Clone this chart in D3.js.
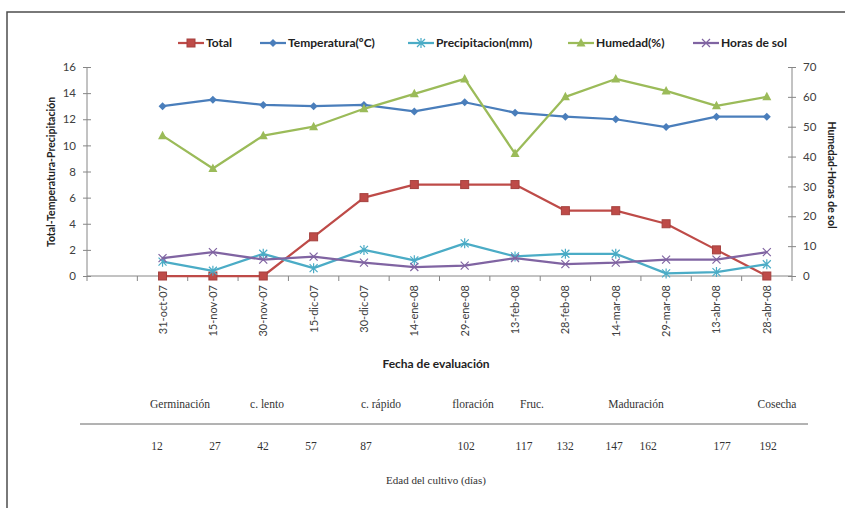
<!DOCTYPE html>
<html>
<head>
<meta charset="utf-8">
<script src="https://cdn.jsdelivr.net/npm/d3@7"></script>
<style>
  body { margin: 0; background: #fff; }
  svg { display: block; }
</style>
</head>
<body>
<svg id="chart" width="845" height="508"></svg>
<script>
// Fechas de evaluación
const fechas = ["31-oct-07", "15-nov-07", "30-nov-07", "15-dic-07", "30-dic-07", "14-ene-08",
  "29-ene-08", "13-feb-08", "28-feb-08", "14-mar-08", "29-mar-08", "13-abr-08", "28-abr-08"];

// Series del eje principal
const total         = [0, 0, 0, 3, 6, 7, 7, 7, 5, 5, 4, 2, 0];
const temperatura   = [13.0, 13.5, 13.1, 13.0, 13.1, 12.6, 13.3, 12.5, 12.2, 12.0, 11.4, 12.2, 12.2];
const precipitacion = [1.1, 0.4, 1.7, 0.6, 2.0, 1.2, 2.5, 1.5, 1.7, 1.7, 0.2, 0.3, 0.9];

// Series del eje secundario
const humedad  = [47, 36, 47, 50, 56, 61, 66, 41, 60, 66, 62, 57, 60];
const horasSol = [6, 8, 5.5, 6.5, 4.5, 3, 3.5, 6, 4, 4.5, 5.5, 5.5, 8];

const ticksIzq = [0, 2, 4, 6, 8, 10, 12, 14, 16];
const ticksDer = [0, 10, 20, 30, 40, 50, 60, 70];

// Tabla de fases y edad del cultivo
const fases    = ["Germinación", "c. lento", "c. rápido", "floración", "Fruc.", "Maduración", "Cosecha"];
const edadDias = [12, 27, 42, 57, 87, 102, 117, 132, 147, 162, 177, 192];

// Posiciones horizontales de la tabla inferior
const posFases = [180, 267, 381, 473, 532, 636, 777];
const posEdad  = [157, 215, 263, 311, 366, 466, 524, 565, 614, 648, 722, 768];

const svg = d3.select("#chart");
const plot = { left: 87, right: 792, top: 67, bottom: 276 };

// Categoría vacía al inicio del eje
const categorias = [" "].concat(fechas);
const x = d3.scaleBand().domain(categorias).range([plot.left, plot.right]).paddingInner(0).paddingOuter(0);
const cx = d => x(d) + x.bandwidth() / 2;
const yIzq = d3.scaleLinear().domain([0, 16]).range([plot.bottom, plot.top]);
const yDer = d3.scaleLinear().domain([0, 70]).range([plot.bottom, plot.top]);

const axisColor = "#868686";
const textColor = "#404040";
const sans = "Lato, 'Open Sans', sans-serif";
const serif = "'Liberation Serif', 'DejaVu Serif', serif";

// Marco
svg.append("path").attr("d", "M7,508 V12 H845").attr("fill", "none")
  .attr("stroke", "#4d4d4d").attr("stroke-width", 1.5);

// Eje izquierdo
const gIzq = svg.append("g").attr("transform", `translate(${plot.left},0)`)
  .call(d3.axisLeft(yIzq).tickValues(ticksIzq).tickSizeInner(4).tickSizeOuter(0).tickPadding(7));
gIzq.selectAll(".tick line").attr("x2", 4).attr("x1", -4);
gIzq.select(".domain").attr("d", `M0,${plot.top}V${plot.bottom}`);

// Eje derecho
const gDer = svg.append("g").attr("transform", `translate(${plot.right},0)`)
  .call(d3.axisRight(yDer).tickValues(ticksDer).tickSizeInner(4).tickSizeOuter(0).tickPadding(7));
gDer.selectAll(".tick line").attr("x1", -4).attr("x2", 4);
gDer.select(".domain").attr("d", `M0,${plot.top}V${plot.bottom}`);

[gIzq, gDer].forEach(g => {
  g.selectAll(".domain, .tick line").attr("stroke", axisColor);
  g.selectAll("text").attr("font-family", sans).attr("font-size", 11.5).attr("fill", textColor);
});

// Eje de categorías
const gX = svg.append("g").attr("transform", `translate(0,${plot.bottom})`);
gX.append("line").attr("x1", plot.left).attr("x2", plot.right).attr("stroke", axisColor);
gX.selectAll("line.tick").data(categorias.concat(["__fin"])).join("line").attr("class", "tick")
  .attr("x1", (d, i) => i < categorias.length ? x(d) : plot.right)
  .attr("x2", (d, i) => i < categorias.length ? x(d) : plot.right)
  .attr("y1", 0).attr("y2", 5).attr("stroke", axisColor);
gX.selectAll("text").data(fechas).join("text")
  .attr("transform", d => `translate(${cx(d) + 4},9) rotate(-90)`)
  .attr("text-anchor", "end")
  .attr("font-family", sans).attr("font-size", 11).attr("fill", textColor)
  .text(d => d);

// Títulos de ejes
svg.append("text").attr("transform", "translate(55,172) rotate(-90)")
  .attr("text-anchor", "middle").attr("font-family", sans).attr("font-weight", "bold")
  .attr("font-size", 10.5).attr("fill", "#222").text("Total-Temperatura-Precipitación");
svg.append("text").attr("transform", "translate(828,175) rotate(90)")
  .attr("text-anchor", "middle").attr("font-family", sans).attr("font-weight", "bold")
  .attr("font-size", 10.5).attr("fill", "#222").text("Humedad-Horas de sol");
svg.append("text").attr("x", 436).attr("y", 368)
  .attr("text-anchor", "middle").attr("font-family", sans).attr("font-weight", "bold")
  .attr("font-size", 12).attr("fill", "#222").text("Fecha de evaluación");

// Marcadores
function marker(g, tipo, color) {
  const s = 4;
  if (tipo === "square") {
    g.append("rect").attr("x", -s).attr("y", -s).attr("width", 2 * s).attr("height", 2 * s)
      .attr("fill", color).attr("stroke", d3.color(color).darker(0.4));
  } else if (tipo === "diamond") {
    g.append("path").attr("d", `M0,${-s}L${s},0L0,${s}L${-s},0Z`).attr("fill", color);
  } else if (tipo === "triangle") {
    g.append("path").attr("d", `M0,${-s - 1}L${s + 0.5},${s - 0.5}L${-s - 0.5},${s - 0.5}Z`).attr("fill", color);
  } else if (tipo === "x") {
    g.append("path").attr("d", `M${-s},${-s}L${s},${s}M${-s},${s}L${s},${-s}`)
      .attr("stroke", color).attr("stroke-width", 1.2);
  } else if (tipo === "star") {
    g.append("path").attr("d", `M${-s},${-s}L${s},${s}M${-s},${s}L${s},${-s}M0,${-s - 1}V${s + 1}`)
      .attr("stroke", color).attr("stroke-width", 1.2);
  }
}

const series = [
  { nombre: "Total", valores: total, escala: yIzq, color: "#BE4B48", tipo: "square" },
  { nombre: "Temperatura(ºC)", valores: temperatura, escala: yIzq, color: "#4A7EBB", tipo: "diamond" },
  { nombre: "Precipitacion(mm)", valores: precipitacion, escala: yIzq, color: "#4BACC6", tipo: "star" },
  { nombre: "Humedad(%)", valores: humedad, escala: yDer, color: "#9BBB59", tipo: "triangle" },
  { nombre: "Horas de sol", valores: horasSol, escala: yDer, color: "#8064A2", tipo: "x" }
];

series.forEach(s => {
  const linea = d3.line().x((v, i) => cx(fechas[i])).y(v => s.escala(v));
  const g = svg.append("g");
  g.append("path").attr("d", linea(s.valores)).attr("fill", "none")
    .attr("stroke", s.color).attr("stroke-width", 2.25).attr("stroke-linejoin", "round");
  s.valores.forEach((v, i) => {
    const m = g.append("g").attr("transform", `translate(${cx(fechas[i])},${s.escala(v)})`);
    marker(m, s.tipo, s.color);
  });
});

// Leyenda
const leyendaX = [178, 260, 408, 568, 693];
const leyenda = svg.append("g").attr("transform", "translate(0,43)");
series.forEach((s, i) => {
  const g = leyenda.append("g").attr("transform", `translate(${leyendaX[i]},0)`);
  g.append("line").attr("x1", 0).attr("x2", 26).attr("stroke", s.color).attr("stroke-width", 2.25);
  const m = g.append("g").attr("transform", "translate(13,0)");
  marker(m, s.tipo, s.color);
  g.append("text").attr("x", 28).attr("dy", "0.35em")
    .attr("font-family", sans).attr("font-weight", "bold").attr("font-size", 12)
    .attr("fill", "#222").text(s.nombre);
});

// Tabla de fases del cultivo
svg.selectAll("text.fase").data(fases).join("text").attr("class", "fase")
  .attr("x", (d, i) => posFases[i]).attr("y", 408).attr("text-anchor", "middle")
  .attr("font-family", serif).attr("font-size", 11.5).attr("fill", "#333").text(d => d);
svg.append("line").attr("x1", 80).attr("x2", 808).attr("y1", 424).attr("y2", 424)
  .attr("stroke", "#666").attr("stroke-width", 1);
svg.selectAll("text.edad").data(edadDias).join("text").attr("class", "edad")
  .attr("x", (d, i) => posEdad[i]).attr("y", 450).attr("text-anchor", "middle")
  .attr("font-family", serif).attr("font-size", 11.5).attr("fill", "#333").text(d => d);
svg.append("text").attr("x", 436).attr("y", 484).attr("text-anchor", "middle")
  .attr("font-family", serif).attr("font-size", 11).attr("fill", "#333")
  .text("Edad del cultivo (días)");
</script>
</body>
</html>
